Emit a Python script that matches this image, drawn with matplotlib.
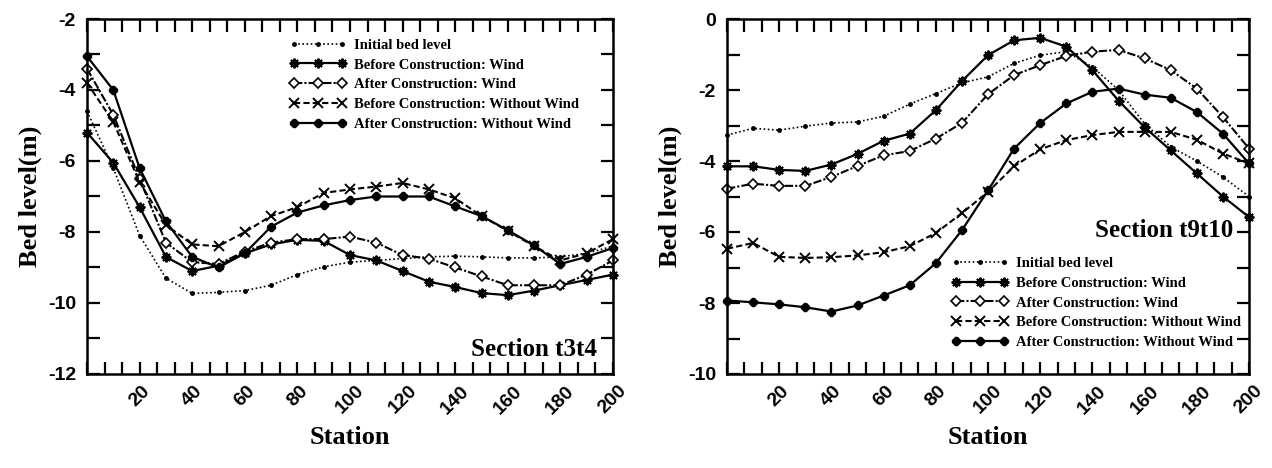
import matplotlib
matplotlib.use("Agg")
import matplotlib.pyplot as plt
from matplotlib.ticker import MultipleLocator, FixedLocator

plt.rcParams["axes.unicode_minus"] = False

SERIF = "Liberation Serif"
SANS = "Liberation Sans"

STATION = [0, 10, 20, 30, 40, 50, 60, 70, 80, 90, 100,
           110, 120, 130, 140, 150, 160, 170, 180, 190, 200]

LABELS = ["Initial bed level",
          "Before Construction: Wind",
          "After Construction: Wind",
          "Before Construction: Without Wind",
          "After Construction: Without Wind"]

# Section t3t4
T3_INITIAL = [-4.6, -6.2, -8.1, -9.3, -9.73, -9.7, -9.65, -9.5, -9.2, -8.98, -8.85,
              -8.8, -8.75, -8.7, -8.68, -8.7, -8.73, -8.73, -8.7, -8.6, -8.4]
T3_BEFORE_WIND = [-5.2, -6.05, -7.3, -8.7, -9.1, -8.95, -8.6, -8.35, -8.22, -8.25, -8.65,
                  -8.8, -9.1, -9.4, -9.55, -9.72, -9.78, -9.65, -9.5, -9.35, -9.2]
T3_AFTER_WIND = [-3.4, -4.7, -6.5, -8.3, -8.85, -8.9, -8.55, -8.3, -8.2, -8.2, -8.13,
                 -8.3, -8.65, -8.75, -9.0, -9.25, -9.5, -9.5, -9.5, -9.2, -8.8]
T3_BEFORE_NOWIND = [-3.8, -4.9, -6.6, -7.8, -8.35, -8.4, -8.0, -7.55, -7.3, -6.9, -6.8,
                    -6.72, -6.62, -6.8, -7.05, -7.55, -7.97, -8.4, -8.8, -8.6, -8.2]
T3_AFTER_NOWIND = [-3.05, -4.0, -6.2, -7.7, -8.7, -9.0, -8.6, -7.85, -7.45, -7.25, -7.1,
                   -7.0, -7.0, -7.0, -7.28, -7.55, -7.95, -8.38, -8.9, -8.7, -8.45]

# Section t9t10
T9_INITIAL = [-3.27, -3.08, -3.13, -3.02, -2.93, -2.9, -2.74, -2.4, -2.1, -1.8, -1.63,
              -1.25, -1.02, -0.92, -1.35, -2.0, -2.95, -3.6, -4.0, -4.45, -5.0]
T9_BEFORE_WIND = [-4.15, -4.15, -4.25, -4.28, -4.1, -3.8, -3.43, -3.23, -2.57, -1.75, -1.02,
                  -0.6, -0.53, -0.78, -1.44, -2.3, -3.05, -3.7, -4.35, -5.0, -5.58]
T9_AFTER_WIND = [-4.78, -4.64, -4.7, -4.7, -4.45, -4.14, -3.84, -3.72, -3.37, -2.93, -2.12,
                 -1.58, -1.3, -1.04, -0.92, -0.87, -1.11, -1.44, -1.96, -2.76, -3.65]
T9_BEFORE_NOWIND = [-6.47, -6.31, -6.7, -6.73, -6.71, -6.66, -6.57, -6.4, -6.03, -5.47, -4.87,
                    -4.15, -3.67, -3.41, -3.27, -3.18, -3.18, -3.18, -3.4, -3.79, -4.07]
T9_AFTER_NOWIND = [-7.93, -7.98, -8.04, -8.12, -8.24, -8.07, -7.79, -7.5, -6.88, -5.95, -4.83,
                   -3.65, -2.93, -2.38, -2.05, -1.96, -2.13, -2.22, -2.62, -3.23, -4.07]

STYLES = [
    dict(ls=(0, (1, 1.5)), lw=1.2, marker="o", ms=2.5, mfc="black"),
    dict(ls="-", lw=1.6, marker=(8, 2, 0), ms=7, mew=1.4),
    dict(ls=(0, (4, 1, 1, 1)), lw=1.5, marker="D", ms=5, mfc="white", mew=1.2),
    dict(ls=(0, (3, 1.5)), lw=1.5, marker="x", ms=7, mew=1.4),
    dict(ls="-", lw=1.6, marker="8", ms=5.5, mfc="black"),
]


def style_axes(ax, ylim, yticks):
    ax.set_xlim(0, 200)
    ax.set_ylim(*ylim)
    ax.xaxis.set_major_locator(FixedLocator(range(20, 201, 20)))
    ax.xaxis.set_minor_locator(MultipleLocator(20 / 3))
    ax.yaxis.set_major_locator(FixedLocator(yticks))
    ax.yaxis.set_minor_locator(MultipleLocator(1))
    ax.tick_params(which="both", direction="in", top=True, right=True,
                   length=9, width=1.6)
    ax.tick_params(axis="x", which="major", pad=6)
    ax.tick_params(axis="y", which="major", pad=8)
    for lab in ax.get_xticklabels():
        lab.set_rotation(45)
        lab.set_ha("center")
        lab.set_va("top")
        lab.set_fontfamily(SANS)
        lab.set_fontweight("bold")
        lab.set_fontsize(14)
    ax.set_yticks(yticks)
    ax.set_yticklabels([str(v) for v in yticks], family=SANS,
                       fontweight="bold", fontsize=14)
    for sp in ax.spines.values():
        sp.set_linewidth(1.8)
    ax.set_xlabel("Station", family=SERIF, fontweight="bold", fontsize=19,
                  labelpad=6)
    ax.set_ylabel("Bed level(m)", family=SERIF, fontweight="bold", fontsize=19,
                  labelpad=4)


fig = plt.figure(figsize=(12.72, 4.68), dpi=100)
ax1 = fig.add_axes([87 / 1272, 94 / 468, 526 / 1272, 355 / 468])
ax2 = fig.add_axes([727 / 1272, 94 / 468, 522 / 1272, 355 / 468])

for ax, series in ((ax1, [T3_INITIAL, T3_BEFORE_WIND, T3_AFTER_WIND,
                          T3_BEFORE_NOWIND, T3_AFTER_NOWIND]),
                   (ax2, [T9_INITIAL, T9_BEFORE_WIND, T9_AFTER_WIND,
                          T9_BEFORE_NOWIND, T9_AFTER_NOWIND])):
    for vals, lab, st in zip(series, LABELS, STYLES):
        ax.plot(STATION, vals, color="black", mec="black", label=lab,
                clip_on=False, **st)

style_axes(ax1, (-12, -2), [-2, -4, -6, -8, -10, -12])
style_axes(ax2, (-10, 0), [0, -2, -4, -6, -8, -10])

leg_kw = dict(frameon=False, numpoints=3, handlelength=3.9, handletextpad=0.55,
              labelspacing=0.45, borderpad=0, borderaxespad=0,
              prop=dict(family=SERIF, weight="bold", size=10.5))
ax1.legend(loc="upper left", bbox_to_anchor=(0.385, 0.945), **leg_kw)
ax2.legend(loc="upper left", bbox_to_anchor=(0.43, 0.33), **leg_kw)

ax1.text(194, -11.3, "Section t3t4", family=SERIF, fontweight="bold",
         fontsize=18, ha="right", va="center")
ax2.text(194, -5.95, "Section t9t10", family=SERIF, fontweight="bold",
         fontsize=18, ha="right", va="center")

fig.savefig("out.png", dpi=100, facecolor="white")
